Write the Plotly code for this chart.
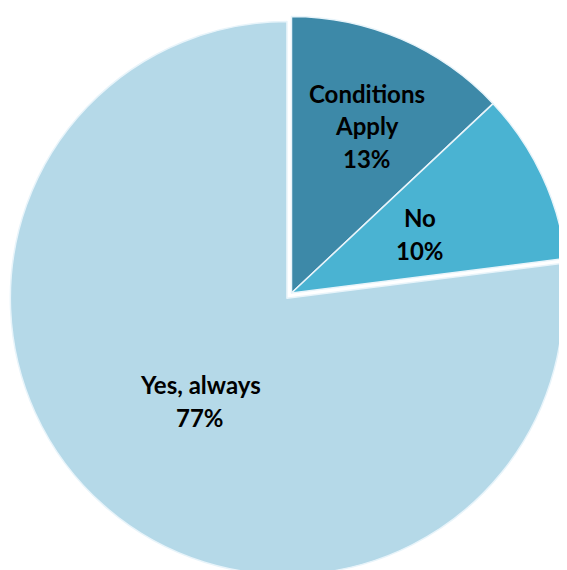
import plotly.graph_objects as go

labels = ["Conditions Apply", "No", "Yes, always"]
values = [13, 10, 77]
colors = ["#3d89a8", "#4ab3d2", "#b5d9e8"]
pulls = [0, 0, 0.025]
label_lines = [["Conditions", "Apply", "13%"], ["No", "10%"], ["Yes, always", "77%"]]
label_pos = [(359, 118), (412, 226), (192, 393)]  # pixel centers of label blocks within the figure

W, H = 567, 570
fig = go.Figure(go.Pie(
    labels=labels, values=values, sort=False, direction="clockwise", rotation=0,
    pull=pulls, textinfo="none", hoverinfo="label+percent",
    marker=dict(colors=colors, line=dict(color="#e8f4fa", width=1.5)),
    showlegend=False,
))

annotations = []
spacing = 33
for lines, (cx, cy) in zip(label_lines, label_pos):
    n = len(lines)
    for i, t in enumerate(lines):
        py = cy + (i - (n - 1) / 2) * spacing
        annotations.append(dict(
            x=cx / W, y=1 - py / H, xref="paper", yref="paper", text="<b>%s</b>" % t,
            showarrow=False, font=dict(family="Lato", size=24, color="#000000"),
            xanchor="center", yanchor="middle"))

fig.update_layout(
    width=W, height=H, margin=dict(l=0, r=0, t=0, b=0),
    paper_bgcolor="white", plot_bgcolor="white", annotations=annotations,
)
fig.write_html("out.html")
